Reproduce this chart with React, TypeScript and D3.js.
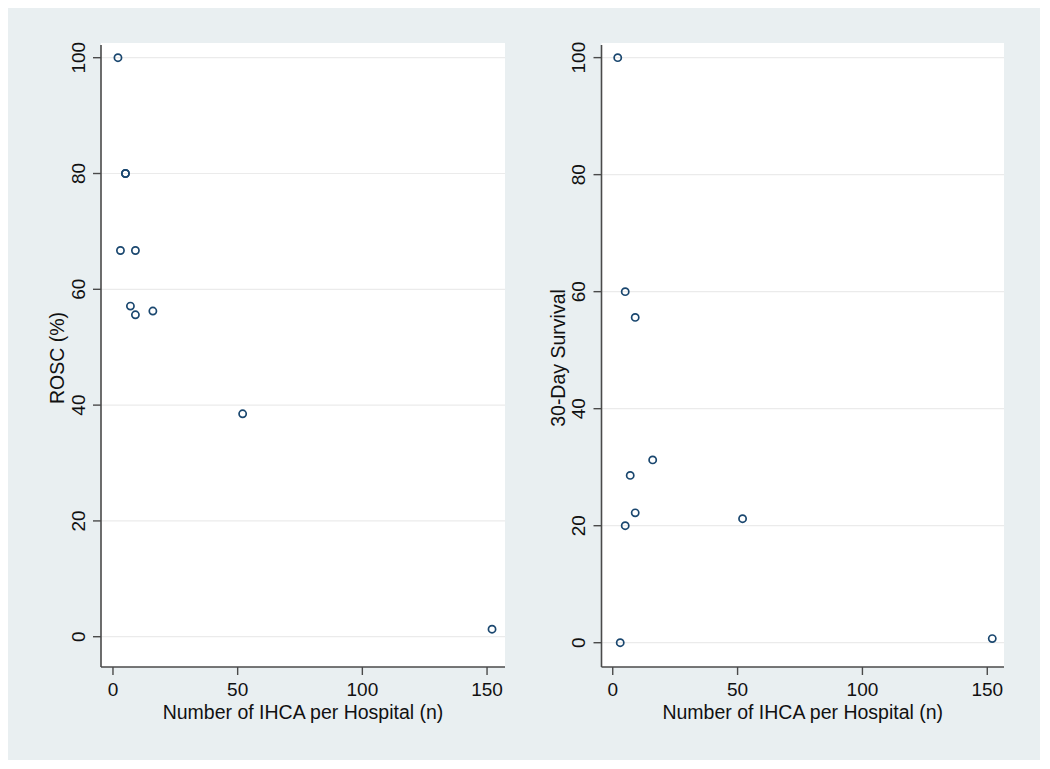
import React from "react";
import * as d3 from "d3";

// Number of IHCA per hospital and outcome (%)
const roscHospitalN = [2, 5, 5, 3, 9, 7, 9, 16, 52, 152];
const roscValues = [100, 80, 80, 66.7, 66.7, 57.1, 55.6, 56.25, 38.5, 1.3];

const survHospitalN = [2, 5, 9, 16, 7, 9, 5, 3, 52, 152];
const survValues = [100, 60, 55.6, 31.25, 28.6, 22.2, 20, 0, 21.2, 0.7];

const xTicks = [0, 50, 100, 150];
const yTicks = [0, 20, 40, 60, 80, 100];

const xAxisTitle = "Number of IHCA per Hospital (n)";
const leftTitle = "ROSC (%)";
const rightTitle = "30-Day Survival";

const W = 1032;
const H = 752;
const FONT = "'Liberation Sans', Arial, Helvetica, sans-serif";
const BG = "#e9eff1";
const MARK = "#1a476f";
const AXIS = "#4a4a4a";
const GRID = "#ebebeb";

type PanelProps = {
  left: number;
  right: number;
  top: number;
  bottom: number;
  xs: number[];
  ys: number[];
  yDomain: [number, number];
  xDomain: [number, number];
  yTitle: string;
};

function Panel({ left, right, top, bottom, xs, ys, yDomain, xDomain, yTitle }: PanelProps) {
  const x = d3.scaleLinear().domain(xDomain).range([left, right]);
  const y = d3.scaleLinear().domain(yDomain).range([bottom, top]);
  return (
    <g>
      <rect x={left} y={top} width={right - left} height={bottom - top} fill="#ffffff" />
      {yTicks.map((t) => (
        <line key={"g" + t} x1={left} x2={right} y1={y(t)} y2={y(t)} stroke={GRID} strokeWidth={1.2} />
      ))}
      {/* axes */}
      <line x1={left} x2={left} y1={top + 2} y2={bottom} stroke={AXIS} strokeWidth={1.6} />
      <line x1={left} x2={right} y1={bottom} y2={bottom} stroke={AXIS} strokeWidth={1.6} />
      {yTicks.map((t) => (
        <g key={"y" + t}>
          <line x1={left - 8} x2={left} y1={y(t)} y2={y(t)} stroke={AXIS} strokeWidth={1.4} />
          <text
            transform={`translate(${left - 23},${y(t)}) rotate(-90)`}
            textAnchor="middle"
            dominantBaseline="central"
            fontFamily={FONT}
            fontSize={19}
            fill="#111"
          >
            {t}
          </text>
        </g>
      ))}
      {xTicks.map((t) => (
        <g key={"x" + t}>
          <line x1={x(t)} x2={x(t)} y1={bottom} y2={bottom + 8} stroke={AXIS} strokeWidth={1.4} />
          <text
            x={x(t)}
            y={bottom + 22}
            textAnchor="middle"
            dominantBaseline="central"
            fontFamily={FONT}
            fontSize={19}
            fill="#111"
          >
            {t}
          </text>
        </g>
      ))}
      <text
        x={(left + right) / 2}
        y={bottom + 45}
        textAnchor="middle"
        dominantBaseline="central"
        fontFamily={FONT}
        fontSize={19.5}
        fill="#111"
      >
        {xAxisTitle}
      </text>
      <text
        transform={`translate(${left - 44},${(top + bottom) / 2 + 3}) rotate(-90)`}
        textAnchor="middle"
        dominantBaseline="central"
        fontFamily={FONT}
        fontSize={19.5}
        fill="#111"
      >
        {yTitle}
      </text>
      {xs.map((v, i) => (
        <circle
          key={"p" + i}
          cx={x(v)}
          cy={y(ys[i])}
          r={3.6}
          fill="none"
          stroke={MARK}
          strokeWidth={1.7}
        />
      ))}
    </g>
  );
}

export default function App() {
  // svg placed at (8,8) by body margin; coordinates below are in svg space
  const off = 8;
  return (
    <svg width={W} height={H} style={{ display: "block" }}>
      <rect x={0} y={0} width={W} height={H} fill={BG} />
      <Panel
        left={101 - off}
        right={505 - off}
        top={43 - off}
        bottom={667 - off}
        xs={roscHospitalN}
        ys={roscValues}
        xDomain={[-4.8, 157.2]}
        yDomain={[-5.23, 102.54]}
        yTitle={leftTitle}
      />
      <Panel
        left={601.5 - off}
        right={1004 - off}
        top={43 - off}
        bottom={667 - off}
        xs={survHospitalN}
        ys={survValues}
        xDomain={[-4.5, 156.7]}
        yDomain={[-4.15, 102.5]}
        yTitle={rightTitle}
      />
    </svg>
  );
}
